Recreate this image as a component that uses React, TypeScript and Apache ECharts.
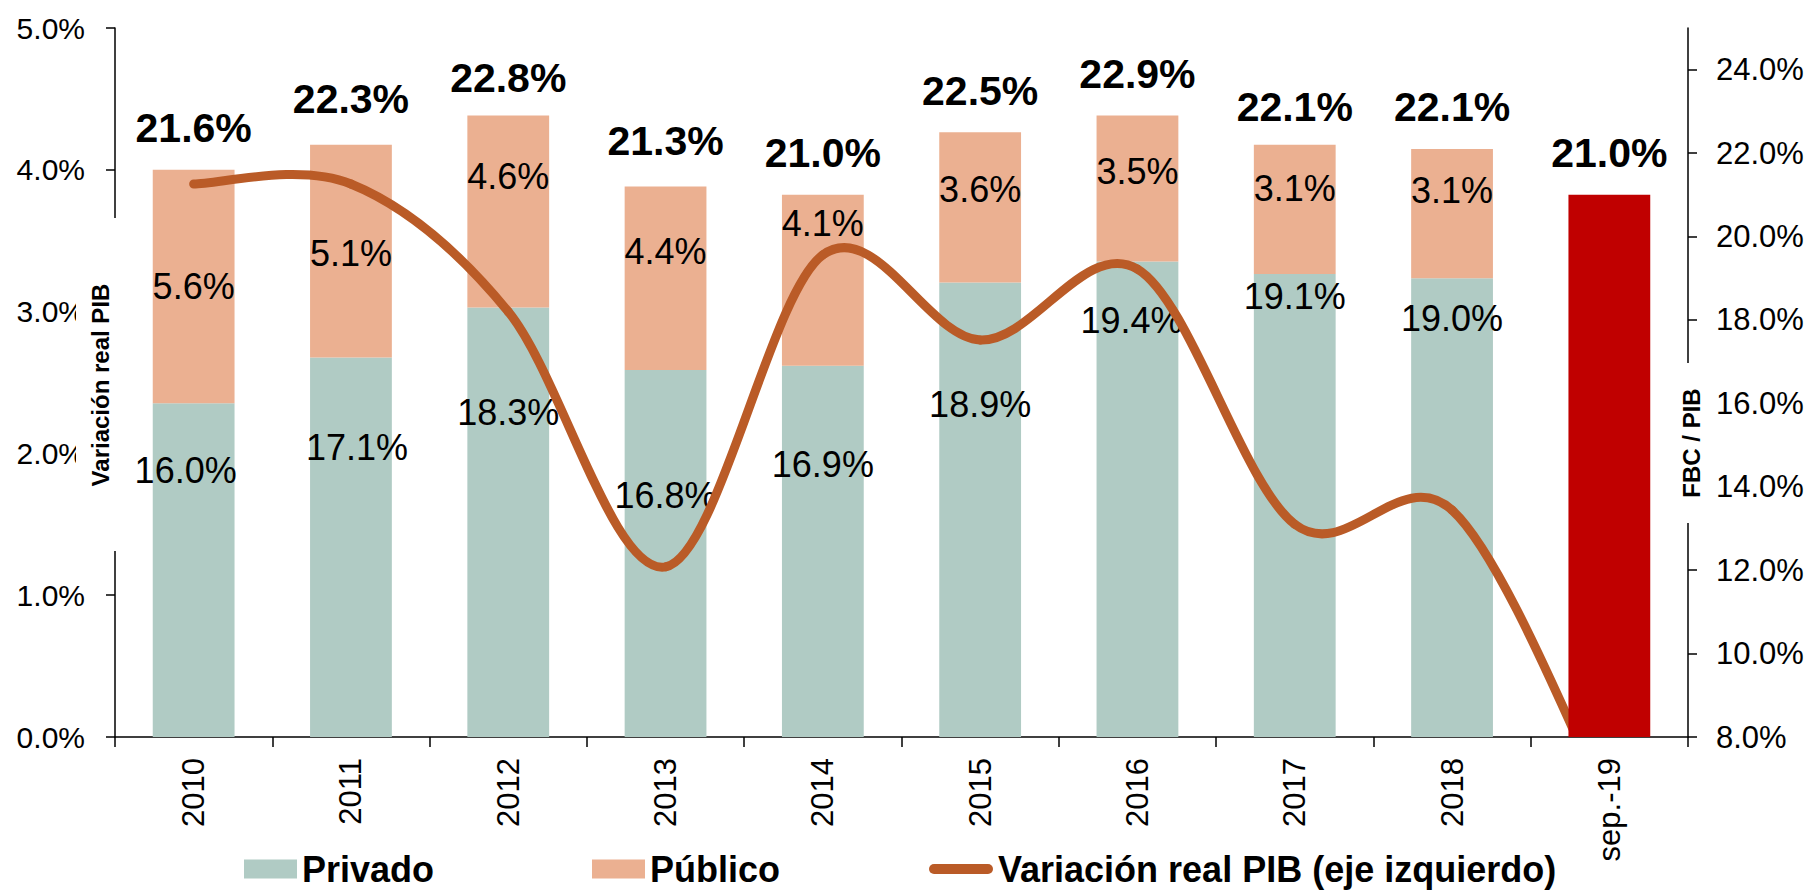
import React, { useEffect, useRef } from 'react';
import * as echarts from 'echarts';

// ---- data ----
const categories = ['2010', '2011', '2012', '2013', '2014', '2015', '2016', '2017', '2018', 'sep.-19'];
const privado = [16.0, 17.1, 18.3, 16.8, 16.9, 18.9, 19.4, 19.1, 19.0];
const publico = [5.6, 5.1, 4.6, 4.4, 4.1, 3.6, 3.5, 3.1, 3.1];
const sep19Total = 21.0;
const totals = [21.6, 22.3, 22.8, 21.3, 21.0, 22.5, 22.9, 22.1, 22.1, 21.0];
const pibGrowth = [3.9, 3.9, 3.0, 1.2, 3.4, 2.8, 3.3, 1.5, 1.6, -0.5];
const rightTicks = [8, 10, 12, 14, 16, 18, 20, 22, 24];
const leftAxisTitle = 'Variación real PIB';
const rightAxisTitle = 'FBC / PIB';

// ---- label placement (presentation only) ----
const privadoLabelOffsets = [[-8, 49], [6, 72], [0, 87], [0, 108], [0, 81], [0, 104], [-6, 41], [0, 4], [0, 22]];
const publicoLabelOffsets = [[0, 0], [0, 2], [0, -35], [0, -27], [0, -57], [0, -18], [0, -17], [0, -21], [0, -23]];

const FONT = '"Liberation Sans", Arial, sans-serif';
const LINE_COLOR = '#BA5B27';
const GRID = { left: 115, right: 122, top: 28, bottom: 154 };
const W = 1810;
const H = 891;
const pct = (v: number) => v.toFixed(1) + '%';

// Excel-like smoothed line: cubic Bezier segments (Catmull-Rom, tension 1/6)
function renderSmoothSegment(params: any, api: any) {
  const n = params.dataInsideLength ?? pibGrowth.length;
  const i = params.dataIndexInside;
  if (i >= n - 1) return null;
  const clampIdx = (k: number) => Math.max(0, Math.min(n - 1, k));
  const pt = (k: number) => {
    const kk = clampIdx(k);
    return api.coord([api.value(0, kk), api.value(1, kk)]);
  };
  const p0 = pt(i - 1);
  const p1 = pt(i);
  const p2 = pt(i + 1);
  const p3 = pt(i + 2);
  const t = 1 / 6;
  return {
    type: 'bezierCurve',
    shape: {
      x1: p1[0],
      y1: p1[1],
      cpx1: p1[0] + (p2[0] - p0[0]) * t,
      cpy1: p1[1] + (p2[1] - p0[1]) * t,
      cpx2: p2[0] - (p3[0] - p1[0]) * t,
      cpy2: p2[1] - (p3[1] - p1[1]) * t,
      x2: p2[0],
      y2: p2[1],
    },
    style: { stroke: LINE_COLOR, lineWidth: 9, lineCap: 'round', fill: null },
  };
}

function axisTitle(text: string, cx: number, cy: number, box: [number, number, number, number]) {
  // box: [left, top, right, bottom] in px – white panel that breaks the axis line
  return {
    type: 'group',
    z: 100,
    children: [
      {
        type: 'rect',
        z: 100,
        shape: { x: box[0], y: box[1], width: box[2] - box[0], height: box[3] - box[1] },
        style: { fill: '#fff', stroke: null },
      },
      {
        type: 'text',
        z: 101,
        x: cx,
        y: cy,
        rotation: Math.PI / 2,
        style: {
          text,
          fontSize: 24,
          fontWeight: 'bold',
          fontFamily: FONT,
          fill: '#000',
          align: 'center',
          verticalAlign: 'middle',
          textAlign: 'center',
          textVerticalAlign: 'middle',
        },
      },
    ],
  };
}

export default function App() {
  const ref = useRef<HTMLDivElement>(null);

  useEffect(() => {
    if (!ref.current) return;
    const chart = echarts.init(ref.current, null, { renderer: 'svg' });
    const blanks9 = categories.slice(0, 9).map(() => '-');
    const axisLeftX = GRID.left;
    const axisRightX = W - GRID.right;

    const legendBase = {
      top: 851,
      padding: 0,
      itemHeight: 19,
      itemWidth: 53,
      icon: 'rect',
      textStyle: { fontSize: 36, fontWeight: 'bold', color: '#000', fontFamily: FONT },
    };

    chart.setOption({
      animation: false,
      textStyle: { fontFamily: FONT },
      grid: { ...GRID, containLabel: false, outerBoundsMode: 'none' },
      graphic: [
        axisTitle(leftAxisTitle, axisLeftX - 15, 385, [axisLeftX - 39, 218, axisLeftX + 6, 551]),
        axisTitle(rightAxisTitle, axisRightX + 3, 443, [axisRightX - 14, 363, axisRightX + 18, 523]),
      ],
      legend: [
        { ...legendBase, left: 244, data: ['Privado'] },
        { ...legendBase, left: 592, data: ['Público'] },
        {
          ...legendBase,
          left: 929,
          itemWidth: 64,
          itemHeight: 10,
          icon: 'path://M5,0L59,0A5,5,0,0,1,59,10L5,10A5,5,0,0,1,5,0Z',
          itemStyle: { color: LINE_COLOR, borderWidth: 0 },
          data: ['Variación real PIB (eje izquierdo)'],
        },
      ],
      xAxis: {
        type: 'category',
        data: categories,
        boundaryGap: true,
        axisLine: { onZero: false, lineStyle: { color: '#000', width: 1.5 } },
        axisTick: { show: true, length: 10, lineStyle: { color: '#000', width: 1.5 } },
        axisLabel: { rotate: 90, margin: 21, fontSize: 31, color: '#000', interval: 0 },
        splitLine: { show: false },
      },
      yAxis: [
        {
          type: 'value',
          position: 'left',
          min: 0,
          max: 5,
          interval: 1,
          splitLine: { show: false },
          axisLine: { show: true, lineStyle: { color: '#000', width: 1.5 } },
          axisTick: { show: true, length: 9, lineStyle: { color: '#000', width: 1.5 } },
          axisLabel: { margin: 30, fontSize: 30, color: '#000', formatter: (v: number) => pct(v) },
        },
        {
          type: 'value',
          position: 'right',
          min: 8,
          max: 25,
          interval: 2,
          splitLine: { show: false },
          axisLine: { show: true, lineStyle: { color: '#000', width: 1.5 } },
          axisTick: { show: true, length: 9, customValues: rightTicks, lineStyle: { color: '#000', width: 1.5 } },
          axisLabel: {
            margin: 28,
            fontSize: 31,
            color: '#000',
            customValues: rightTicks,
            formatter: (v: number) => (v > 24.5 ? '' : pct(v)),
          },
        },
      ],
      series: [
        {
          name: 'Privado',
          type: 'bar',
          stack: 'fbc',
          yAxisIndex: 1,
          barCategoryGap: '48%',
          itemStyle: { color: '#B0CBC4' },
          label: {
            show: true,
            position: 'insideTop',
            distance: 0,
            fontSize: 36,
            lineHeight: 36,
            color: '#000',
            formatter: (p: any) => pct(p.value),
          },
          data: [
            ...privado.map((v, i) => ({ value: v, label: { offset: privadoLabelOffsets[i] } })),
            '-',
          ],
        },
        {
          name: 'Público',
          type: 'bar',
          stack: 'fbc',
          yAxisIndex: 1,
          itemStyle: { color: '#EBB091' },
          label: {
            show: true,
            position: 'inside',
            fontSize: 36,
            lineHeight: 36,
            color: '#000',
            formatter: (p: any) => pct(p.value),
          },
          data: [
            ...publico.map((v, i) => ({ value: v, label: { offset: publicoLabelOffsets[i] } })),
            '-',
          ],
        },
        {
          name: 'Variación real PIB (eje izquierdo)',
          type: 'custom',
          yAxisIndex: 0,
          z: 3,
          clip: true,
          color: LINE_COLOR,
          itemStyle: { color: LINE_COLOR },
          encode: { x: 0, y: 1 },
          renderItem: renderSmoothSegment,
          data: pibGrowth.map((v, i) => [i, v]),
        },
        {
          name: 'sep.-19',
          type: 'bar',
          stack: 'fbc',
          yAxisIndex: 1,
          z: 4,
          itemStyle: { color: '#C00000' },
          data: [...blanks9, sep19Total],
        },
        {
          name: 'Total',
          type: 'scatter',
          yAxisIndex: 1,
          z: 5,
          silent: true,
          symbolSize: 1,
          itemStyle: { color: 'rgba(0,0,0,0)', opacity: 1 },
          label: {
            show: true,
            position: 'top',
            distance: 21,
            fontSize: 41,
            lineHeight: 40,
            fontWeight: 'bold',
            color: '#000',
            opacity: 1,
            formatter: (p: any) => pct(p.value),
          },
          data: totals,
        },
      ],
    });

    return () => chart.dispose();
  }, []);

  return (
    <div
      ref={ref}
      style={{ position: 'absolute', left: 0, top: 0, width: W, height: H, background: '#fff' }}
    />
  );
}
